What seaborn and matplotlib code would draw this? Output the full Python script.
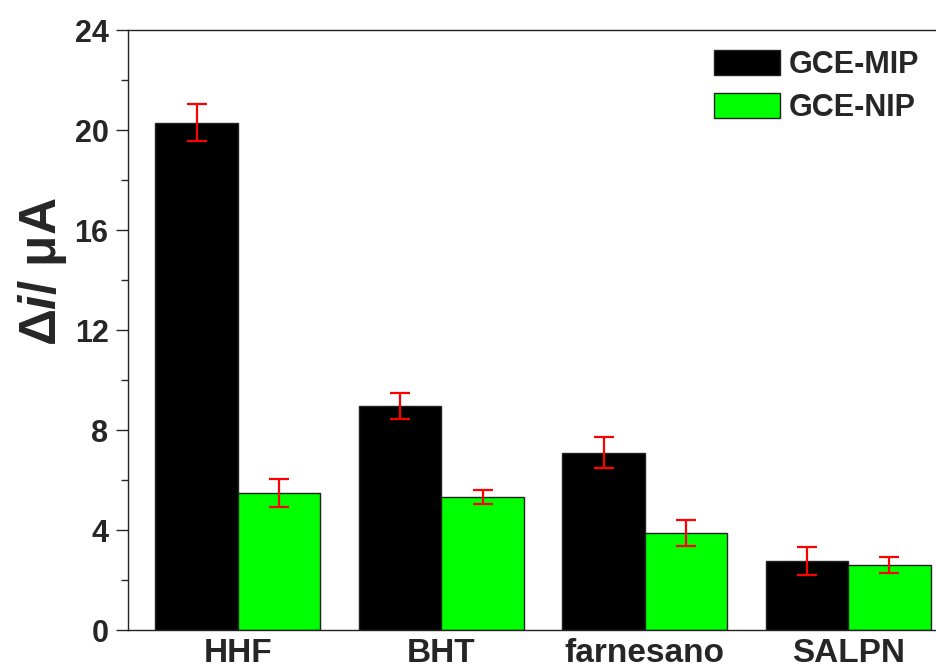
import matplotlib
matplotlib.use("Agg")
import matplotlib.pyplot as plt
import seaborn as sns
import pandas as pd
import numpy as np

categories = ["HHF", "BHT", "farnesano", "SALPN"]
series = ["GCE-MIP", "GCE-NIP"]
mip_values = [20.3, 8.98, 7.1, 2.75]
nip_values = [5.5, 5.32, 3.9, 2.62]
mip_err = [0.75, 0.52, 0.62, 0.56]
nip_err = [0.56, 0.28, 0.52, 0.32]
yticks = [0, 4, 8, 12, 16, 20, 24]

sns.set_theme(style="ticks")
plt.rcParams['font.family'] = ['Liberation Sans', 'DejaVu Sans']
plt.rcParams['font.weight'] = 'bold'
plt.rcParams['mathtext.fontset'] = 'custom'
plt.rcParams['mathtext.it'] = 'Liberation Sans:bold:italic'
plt.rcParams['mathtext.rm'] = 'Liberation Sans:bold'

df = pd.DataFrame({
    "cat": categories * 2,
    "series": [series[0]] * 4 + [series[1]] * 4,
    "val": mip_values + nip_values,
})
errs = {series[0]: mip_err, series[1]: nip_err}

fig = plt.figure(figsize=(9.36, 6.72), dpi=100)
ax = fig.add_axes([128/936, 42/672, 822/936, 600/672])

sns.barplot(data=df, x="cat", y="val", hue="series", order=categories,
            hue_order=series, palette=["#000000", "#00FF00"], width=0.81,
            edgecolor="#222222", linewidth=1.0, errorbar=None, ax=ax, saturation=1)

for cont, s in zip(ax.containers, series):
    xs = [p.get_x() + p.get_width()/2 for p in cont]
    hs = [p.get_height() for p in cont]
    ax.errorbar(xs, hs, yerr=errs[s], fmt="none", ecolor="red", elinewidth=1.6,
                capsize=7, capthick=1.6, zorder=5)

ax.set_xlim(-0.54, 3.5)
ax.set_ylim(0, 24)
ax.set_yticks(yticks)
ax.set_yticks([2, 6, 10, 14, 18, 22], minor=True)
ax.tick_params(axis='y', which='major', direction='out', length=9, width=1, labelsize=22, pad=5)
ax.tick_params(axis='y', which='minor', direction='out', length=5, width=1)
ax.tick_params(axis='x', length=0, labelsize=24, pad=6)
for lab in ax.get_xticklabels() + ax.get_yticklabels():
    lab.set_fontweight('bold')
for sp in ax.spines.values():
    sp.set_linewidth(1.0)
    sp.set_color("#222222")
    sp.set_visible(True)

ax.set_xlabel("")
ax.set_ylabel(r"$\mathit{\Delta i}$/ μA", fontsize=37, fontweight='bold')
ax.yaxis.set_label_coords(-0.072, 0.598)

leg = ax.legend(loc="upper left", bbox_to_anchor=(699/936, 1 - 35/672),
                bbox_transform=fig.transFigure, frameon=False, borderpad=0,
                fontsize=22, handlelength=2.16, handleheight=0.88, handletextpad=0.28,
                labelspacing=0.4)
for t in leg.get_texts():
    t.set_fontweight('bold')

fig.savefig("out.png", dpi=100)
